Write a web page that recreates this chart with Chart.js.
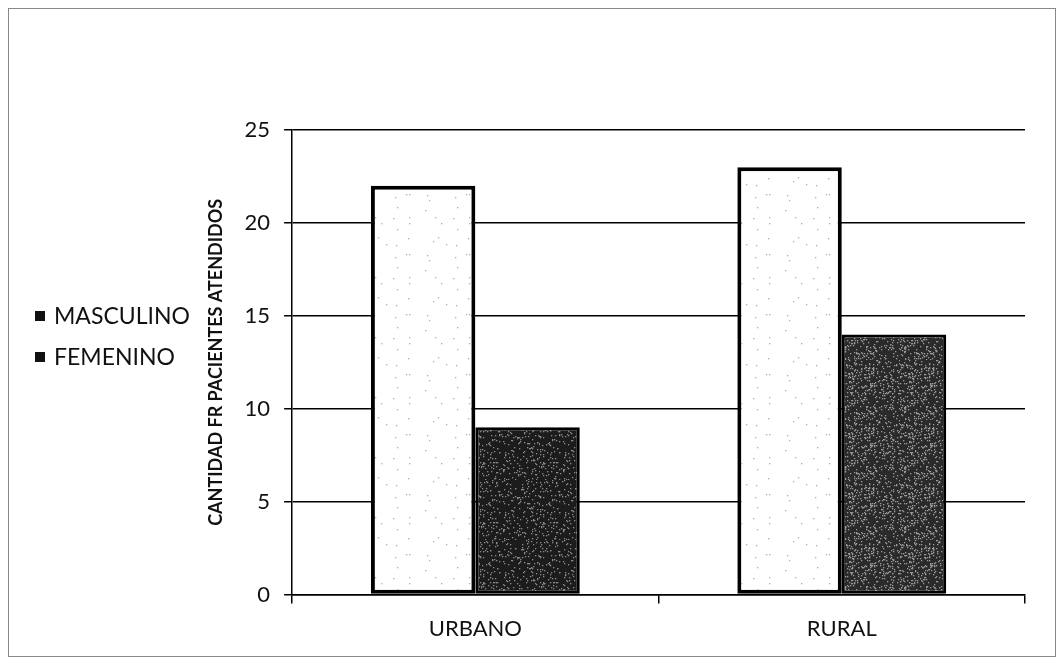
<!DOCTYPE html>
<html>
<head>
<meta charset="utf-8">
<script src="https://cdn.jsdelivr.net/npm/chart.js@4"></script>
<style>
  body { margin:0; background:#fff; }
  #frame { position:absolute; left:8px; top:8px; width:1046px; height:647px; border:1px solid #888; }
  #wrap { position:absolute; left:0; top:0; width:1062px; height:665px; }
  #legend { position:absolute; left:35px; top:299px; font-family:Lato, "Open Sans", sans-serif; font-size:23px; color:#111; }
  #legend div { height:41px; line-height:32px; white-space:nowrap; }
  #legend span.box { display:inline-block; width:10px; height:10px; background:#111; margin-right:9px; vertical-align:3px; }
</style>
</head>
<body>
<div id="frame"></div>
<div id="wrap"><canvas id="myChart" width="1062" height="665"></canvas></div>
<div id="legend"></div>
<script>
const categories = ['URBANO', 'RURAL'];
const seriesNames = ['MASCULINO', 'FEMENINO'];
const masculino = [22, 23];
const femenino = [9, 14];
const yTicks = [0, 5, 10, 15, 20, 25];

// speckled fill like the scanned print
function speckle(base, dot, count, seed) {
    var c = document.createElement('canvas');
    c.width = 60; c.height = 60;
    var g = c.getContext('2d');
    g.fillStyle = base;
    g.fillRect(0, 0, 60, 60);
    g.fillStyle = dot;
    var s = seed;
    for (var i = 0; i < count; i++) {
        s = (s * 16807) % 2147483647;
        var x = s % 60;
        s = (s * 16807) % 2147483647;
        var y = s % 60;
        g.fillRect(x, y, 1.3, 1.3);
    }
    return g.createPattern(c, 'repeat');
}
var ctx = document.getElementById('myChart').getContext('2d');
var whiteFill = speckle('#ffffff', '#b0b0b0', 18, 7);
var darkFill = speckle('#1c1c1c', '#8a8a8a', 260, 11);
var greyFill = speckle('#2a2a2a', '#9a9a9a', 420, 13);

var legendBox = document.getElementById('legend');
seriesNames.forEach(function (n) {
    legendBox.innerHTML += '<div><span class="box"></span>' + n + '</div>';
});

var chart = new Chart(ctx, {
    type: 'bar',
    data: {
        labels: categories,
        datasets: [{
            label: seriesNames[0],
            data: masculino,
            backgroundColor: whiteFill,
            borderColor: '#000',
            borderWidth: 4,
            borderSkipped: false,
            barPercentage: 1.0,
            categoryPercentage: 0.57
        }, {
            label: seriesNames[1],
            data: femenino,
            backgroundColor: [darkFill, greyFill],
            borderColor: '#000',
            borderWidth: 3,
            borderSkipped: false,
            barPercentage: 1.0,
            categoryPercentage: 0.57
        }]
    },
    options: {
        responsive: false,
        animation: false,
        layout: { padding: { left: 201, top: 130, right: 37, bottom: 11 } },
        plugins: { legend: { display: false }, tooltip: { enabled: false } },
        scales: {
            x: {
                grid: { offset: true, drawOnChartArea: false, color: '#000', tickLength: 9, lineWidth: 1.5 },
                border: { color: '#000', width: 1.5 },
                ticks: { color: '#111', font: { family: 'Lato', size: 22 }, padding: 12 }
            },
            y: {
                min: 0, max: 25,
                afterBuildTicks: function (axis) { axis.ticks = yTicks.map(function (v) { return { value: v }; }); },
                grid: { color: '#000', lineWidth: 1.5, tickLength: 8 },
                border: { color: '#000', width: 1.5 },
                ticks: { color: '#111', font: { family: 'Lato', size: 22 }, padding: 14 },
                title: {
                    display: true,
                    text: 'CANTIDAD FR PACIENTES ATENDIDOS',
                    color: '#111',
                    font: { family: 'Lato', size: 18, weight: 'bold' },
                    padding: { bottom: 4 }
                }
            }
        }
    }
});
</script>
</body>
</html>
